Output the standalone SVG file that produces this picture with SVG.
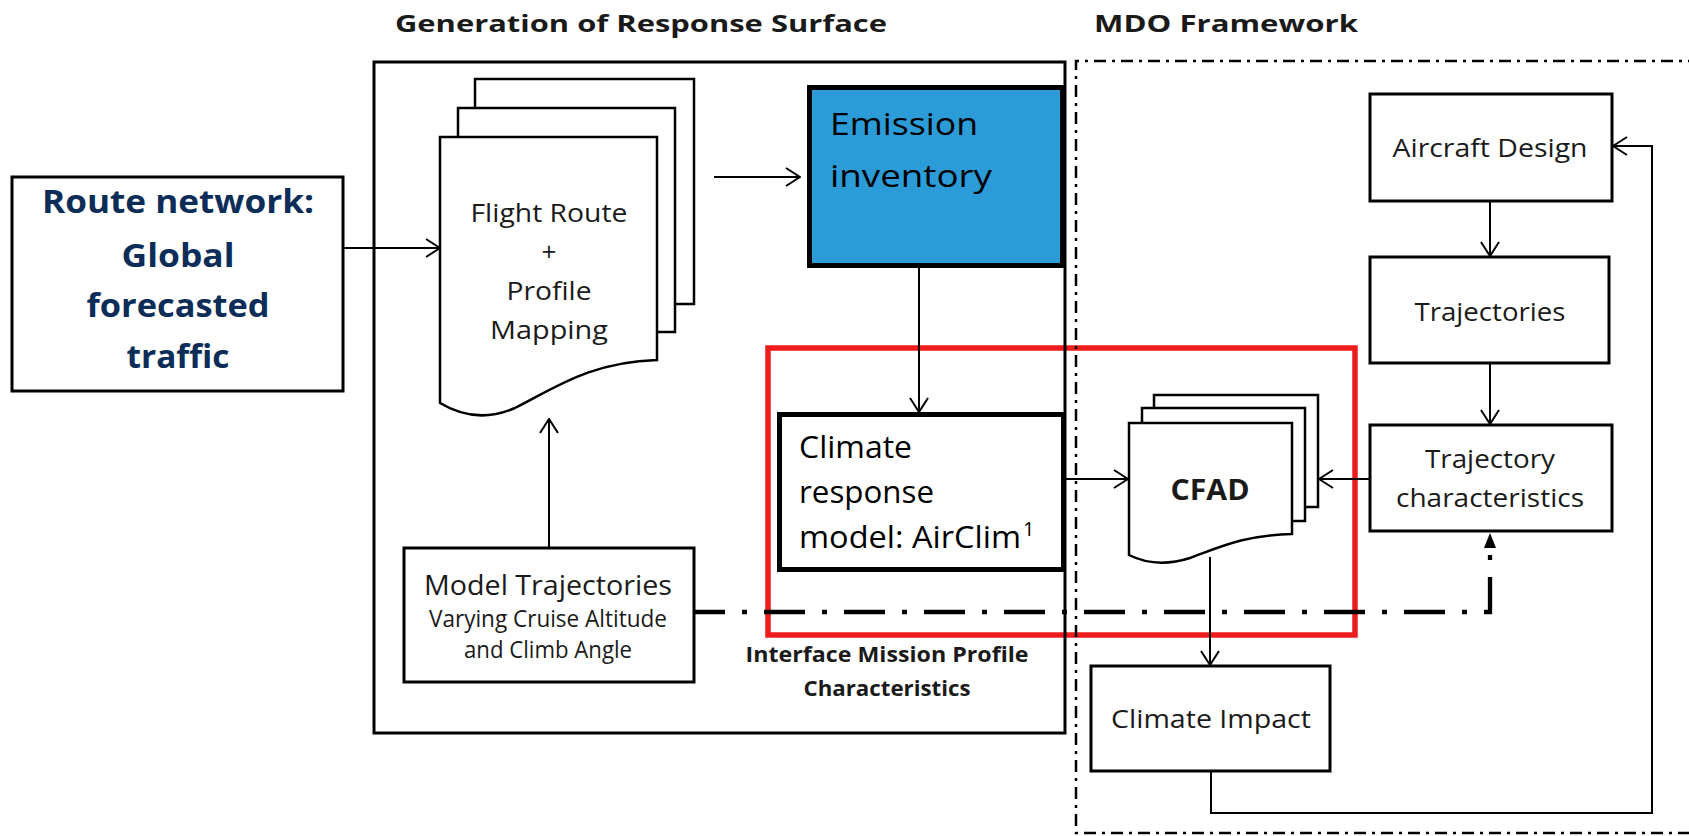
<svg xmlns="http://www.w3.org/2000/svg" width="1689" height="836" viewBox="0 0 1689 836">
<style>
text{font-family:"Open Sans","Liberation Sans",sans-serif;fill:#1a1a1a}
.b{font-weight:bold}
.box{fill:#fff;stroke:#000;stroke-width:3}
.pg{fill:#fff;stroke:#000;stroke-width:2.5}
.ln{fill:none;stroke:#000;stroke-width:2}
.mid{text-anchor:middle}
</style>
<defs>
<marker id="arr" viewBox="0 0 16 20" refX="15" refY="10" markerWidth="16" markerHeight="20" markerUnits="userSpaceOnUse" orient="auto">
<path d="M1,1 L15,10 L1,19" fill="none" stroke="#000" stroke-width="2"/>
</marker>
<marker id="tri" viewBox="0 0 14 12" refX="13" refY="6" markerWidth="14" markerHeight="12" markerUnits="userSpaceOnUse" orient="auto">
<path d="M0,0 L14,6 L0,12 Z" fill="#000"/>
</marker>
</defs>
<rect width="1689" height="836" fill="#fff"/>

<g id="titles">
<text class="b" x="395" y="32" font-size="24" textLength="492" lengthAdjust="spacingAndGlyphs">Generation of Response Surface</text>
<text class="b" x="1094" y="32" font-size="24" textLength="264" lengthAdjust="spacingAndGlyphs">MDO Framework</text>
</g>

<g id="red-highlight">
<rect x="768" y="348" width="587" height="287" fill="none" stroke="#ee1c1c" stroke-width="5.5"/>
</g>

<g id="generation-frame">
<rect x="374" y="62" width="691" height="671" fill="none" stroke="#000" stroke-width="3"/>
</g>
<g id="mdo-frame">
<path d="M1700,61 H1076 V833 H1700" fill="none" stroke="#000" stroke-width="2.5" stroke-dasharray="12 6 3 6"/>
</g>

<g id="route-network">
<rect class="box" x="12" y="177" width="331" height="214"/>
<g class="b mid" font-size="32">
<text x="178" y="213" fill="#0b2d57" style="fill:#0b2d57" textLength="272" lengthAdjust="spacingAndGlyphs">Route network:</text>
<text x="178" y="267" style="fill:#0b2d57" textLength="113" lengthAdjust="spacingAndGlyphs">Global</text>
<text x="178" y="317" style="fill:#0b2d57" textLength="183" lengthAdjust="spacingAndGlyphs">forecasted</text>
<text x="178" y="368" style="fill:#0b2d57" textLength="103" lengthAdjust="spacingAndGlyphs">traffic</text>
</g>
</g>

<g id="flight-route">
<rect class="pg" x="475" y="79" width="219" height="225"/>
<rect class="pg" x="458" y="108" width="217" height="224"/>
<path class="pg" d="M440,137 H657 V360 C590,362 555,388 515,408 C490,419 465,418 440,403 Z"/>
<g class="mid" font-size="26">
<text x="549" y="222" textLength="157" lengthAdjust="spacingAndGlyphs">Flight Route</text>
<text x="549" y="261">+</text>
<text x="549" y="300" textLength="85" lengthAdjust="spacingAndGlyphs">Profile</text>
<text x="549" y="339" textLength="118" lengthAdjust="spacingAndGlyphs">Mapping</text>
</g>
</g>

<g id="emission-inventory">
<rect x="809.5" y="87.5" width="253" height="178" fill="#2b9cd8" stroke="#000" stroke-width="5"/>
<text x="830" y="135" font-size="31" textLength="148" lengthAdjust="spacingAndGlyphs" style="fill:#000">Emission</text>
<text x="830" y="187" font-size="31" textLength="162" lengthAdjust="spacingAndGlyphs" style="fill:#000">inventory</text>
</g>

<g id="climate-response">
<rect x="779.5" y="414.5" width="284" height="155" fill="#fff" stroke="#000" stroke-width="5"/>
<text x="799" y="458" font-size="31" textLength="113" lengthAdjust="spacingAndGlyphs" style="fill:#000">Climate</text>
<text x="799" y="503" font-size="31" textLength="135" lengthAdjust="spacingAndGlyphs" style="fill:#000">response</text>
<text x="799" y="548" font-size="31" textLength="222" lengthAdjust="spacingAndGlyphs" style="fill:#000">model: AirClim</text>
<text x="1023" y="536" font-size="20" style="fill:#000">1</text>
</g>

<g id="model-trajectories">
<rect class="box" x="404" y="548" width="290" height="134"/>
<text class="mid" x="548" y="595" font-size="27" textLength="248" lengthAdjust="spacingAndGlyphs">Model Trajectories</text>
<text class="mid" x="548" y="627" font-size="23" textLength="238" lengthAdjust="spacingAndGlyphs">Varying Cruise Altitude</text>
<text class="mid" x="548" y="658" font-size="23" textLength="168" lengthAdjust="spacingAndGlyphs">and Climb Angle</text>
</g>

<g id="interface-label">
<text class="b mid" x="887" y="662" font-size="21" textLength="283" lengthAdjust="spacingAndGlyphs">Interface Mission Profile</text>
<text class="b mid" x="887" y="696" font-size="21" textLength="167" lengthAdjust="spacingAndGlyphs">Characteristics</text>
</g>

<g id="aircraft-design">
<rect class="box" x="1370" y="94" width="242" height="107"/>
<text class="mid" x="1490" y="157" font-size="25" textLength="195" lengthAdjust="spacingAndGlyphs">Aircraft Design</text>
</g>

<g id="trajectories">
<rect class="box" x="1370" y="257" width="239" height="106"/>
<text class="mid" x="1490" y="321" font-size="26" textLength="151" lengthAdjust="spacingAndGlyphs">Trajectories</text>
</g>

<g id="trajectory-characteristics">
<rect class="box" x="1370" y="425" width="242" height="106"/>
<text class="mid" x="1490" y="468" font-size="26" textLength="130" lengthAdjust="spacingAndGlyphs">Trajectory</text>
<text class="mid" x="1490" y="507" font-size="26" textLength="188" lengthAdjust="spacingAndGlyphs">characteristics</text>
</g>

<g id="cfad">
<rect class="pg" x="1154" y="395" width="164" height="112"/>
<rect class="pg" x="1142" y="408" width="163" height="113"/>
<path class="pg" d="M1129,423 H1292 V534 C1245,535 1220,547 1190,558 C1165,566 1145,563 1129,555 Z"/>
<text class="b mid" x="1210" y="500" font-size="28" textLength="79" lengthAdjust="spacingAndGlyphs">CFAD</text>
</g>

<g id="climate-impact">
<rect class="box" x="1091" y="666" width="239" height="105"/>
<text class="mid" x="1211" y="728" font-size="25" textLength="200" lengthAdjust="spacingAndGlyphs">Climate Impact</text>
</g>

<g id="connectors">
<line class="ln" x1="343" y1="248" x2="440" y2="248" marker-end="url(#arr)"/>
<line class="ln" x1="714" y1="177" x2="800" y2="177" marker-end="url(#arr)"/>
<line class="ln" x1="549" y1="548" x2="549" y2="419" marker-end="url(#arr)"/>
<line class="ln" x1="919" y1="268" x2="919" y2="412" marker-end="url(#arr)"/>
<line class="ln" x1="1066" y1="479" x2="1128" y2="479" marker-end="url(#arr)"/>
<line class="ln" x1="1370" y1="479" x2="1319" y2="479" marker-end="url(#arr)"/>
<line class="ln" x1="1490" y1="201" x2="1490" y2="256" marker-end="url(#arr)"/>
<line class="ln" x1="1490" y1="363" x2="1490" y2="424" marker-end="url(#arr)"/>
<line class="ln" x1="1210" y1="557" x2="1210" y2="665" marker-end="url(#arr)"/>
<path class="ln" d="M1211,771 V813 H1652 V146 H1613" marker-end="url(#arr)"/>
<path d="M694,612 H1490 V548" fill="none" stroke="#000" stroke-width="4.3" stroke-dasharray="41 17 5 17" stroke-dashoffset="10"/>
<path d="M1484,548 L1490,533 L1496,548 Z" fill="#000"/>
</g>
</svg>
